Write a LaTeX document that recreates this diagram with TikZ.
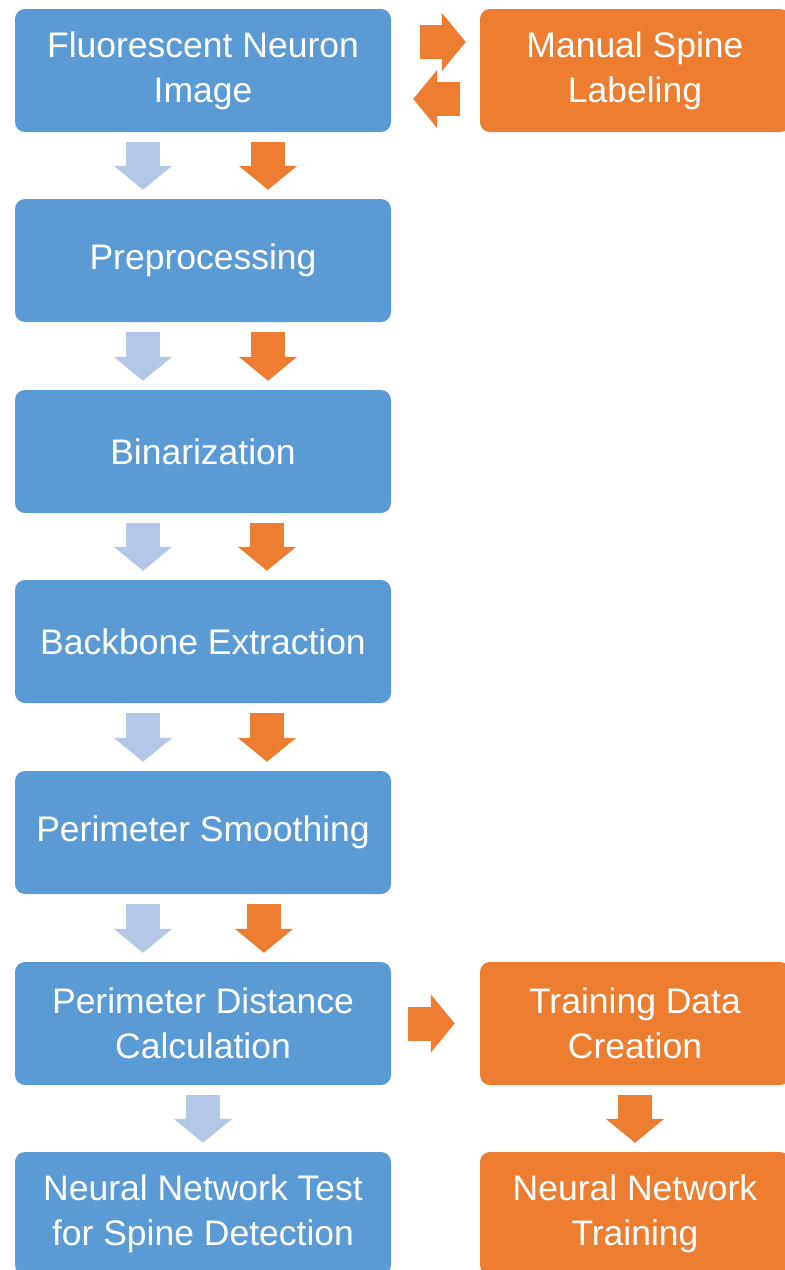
\documentclass[tikz,border=0pt]{standalone}
\usepackage{fontspec}
\setmainfont{Liberation Sans}
\usetikzlibrary{arrows.meta}
\definecolor{kastenblau}{RGB}{91,155,213}
\definecolor{kastenorange}{RGB}{237,125,49}
\definecolor{pfeilhell}{RGB}{180,199,231}

\begin{document}
\begin{tikzpicture}[x=1pt, y=-1pt,
			box/.style={rounded corners=10pt, minimum width=376pt, minimum height=123pt, inner sep=0pt,
				align=center, text=white, font=\fontsize{35.5}{45}\selectfont},
			blaubox/.style={box, fill=kastenblau},
			orangebox/.style={box, fill=kastenorange, minimum width=310pt},
			pfeil/.style={line width=34pt, -{Triangle[width=57pt,length=24pt]}},
			hellpfeil/.style={pfeil, draw=pfeilhell},
			orpfeil/.style={pfeil, draw=kastenorange}]
			%Bildbereich
			\useasboundingbox (0,0) rectangle (785,1270);
			\clip (0,0) rectangle (785,1270);
			% Kaesten links
			\node[blaubox] (img) at (203,70.5) {Fluorescent Neuron\\Image};
			\node[blaubox] (pre) at (203,260.5) {Preprocessing};
			\node[blaubox] (bin) at (203,451.5) {Binarization};
			\node[blaubox] (bbx) at (203,641.5) {Backbone Extraction};
			\node[blaubox] (smo) at (203,832.5) {Perimeter Smoothing};
			\node[blaubox] (pdc) at (203,1023.5) {Perimeter Distance\\Calculation};
			\node[blaubox] (nnt) at (203,1213.5) {Neural Network Test\\for Spine Detection};
			% Kaesten rechts
			\node[orangebox] (msl) at (635,70.5) {Manual Spine\\Labeling};
			\node[orangebox] (tdc) at (635,1023.5) {Training Data\\Creation};
			\node[orangebox] (nntr) at (635,1213.5) {Neural Network\\Training};
			% Pfeile nach unten
			\foreach \a/\b/\o in {img/pre/65,pre/bin/65,bin/bbx/64,bbx/smo/64,smo/pdc/61} {
				\draw[hellpfeil, shorten <=10pt, shorten >=9pt] ([xshift=-60pt]\a.south) -- ([xshift=-60pt]\b.north);
				\draw[orpfeil, shorten <=10pt, shorten >=9pt] ([xshift=\o pt]\a.south) -- ([xshift=\o pt]\b.north);
			}
			\draw[hellpfeil, shorten <=10pt, shorten >=9pt] (pdc) -- (nnt);
			\draw[orpfeil, shorten <=10pt, shorten >=9pt] (tdc) -- (nntr);
			% Pfeile waagrecht
			\draw[orpfeil, shorten <=29pt, shorten >=14pt] ([yshift=28.5pt]img.east) -- ([yshift=28.5pt]msl.west);
			\draw[orpfeil, shorten <=20pt, shorten >=22pt] ([yshift=-28.5pt]msl.west) -- ([yshift=-28.5pt]img.east);
			\draw[orpfeil, shorten <=17pt, shorten >=25pt] (pdc) -- (tdc);
		\end{tikzpicture}
\end{document}
